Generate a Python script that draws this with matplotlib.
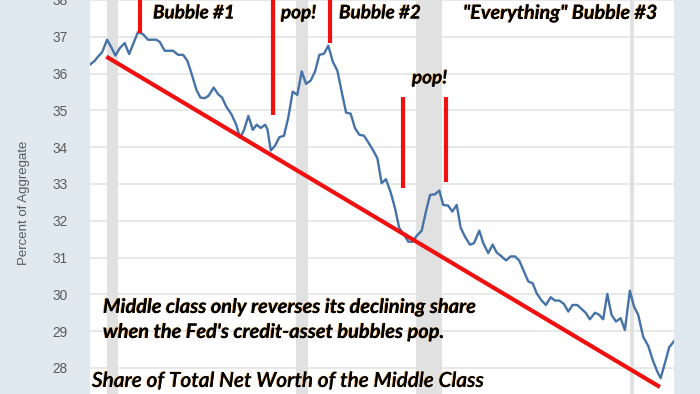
import matplotlib
matplotlib.use("Agg")
import matplotlib.pyplot as plt
import matplotlib.patheffects as pe

# share of total net worth held by the middle class (percent of aggregate)
years = [1989.53, 1989.81, 1989.99, 1990.22, 1990.50, 1990.74, 1990.97, 1991.21, 1991.49, 1991.74,
         1992.06, 1992.24, 1992.52, 1992.80, 1993.27, 1993.46, 1993.74, 1994.21, 1994.49, 1994.77,
         1995.01, 1995.24, 1995.52, 1995.74, 1995.99, 1996.21, 1996.49, 1996.74, 1996.96, 1997.20,
         1997.48, 1997.76, 1997.97, 1998.20, 1998.44, 1998.69, 1998.91, 1999.13, 1999.38, 1999.51,
         1999.70, 1999.94, 2000.18, 2000.44, 2000.69, 2000.93, 2001.19, 2001.44, 2001.68, 2001.94,
         2002.19, 2002.43, 2002.69, 2002.93, 2003.18, 2003.44, 2003.69, 2003.93, 2004.19, 2004.43,
         2004.67, 2004.94, 2005.18, 2005.43, 2005.69, 2005.93, 2006.17, 2006.44, 2006.68, 2006.92,
         2007.19, 2007.43, 2007.67, 2007.90, 2008.18, 2008.42, 2008.65, 2008.93, 2009.17, 2009.39,
         2009.67, 2009.90, 2010.15, 2010.37, 2010.61, 2010.89, 2011.12, 2011.42, 2011.64, 2011.92,
         2012.17, 2012.39, 2012.67, 2012.92, 2013.18, 2013.42, 2013.66, 2013.93, 2014.17, 2014.42,
         2014.64, 2014.92, 2015.16, 2015.43, 2015.67, 2015.91, 2016.17, 2016.42, 2016.66, 2016.92,
         2017.17, 2017.41, 2017.63, 2017.92, 2018.16, 2018.38, 2018.61, 2018.85, 2019.10, 2019.36,
         2019.60, 2019.88, 2020.11, 2020.35, 2020.63, 2020.91, 2021.16, 2021.42, 2021.61, 2021.85,
         2022.09, 2022.35]
share = [36.24, 36.35, 36.46, 36.58, 36.92, 36.71, 36.49, 36.69, 36.83, 36.53,
         36.92, 37.13, 37.07, 36.92, 36.92, 36.86, 36.62, 36.62, 36.51, 36.51,
         36.35, 36.01, 35.56, 35.35, 35.33, 35.40, 35.62, 35.44, 35.35, 35.10,
         34.90, 34.61, 34.25, 34.47, 34.85, 34.47, 34.61, 34.52, 34.61, 34.49,
         33.91, 34.04, 34.27, 34.31, 34.82, 35.51, 35.42, 36.06, 35.72, 35.81,
         36.06, 36.51, 36.54, 36.76, 36.33, 36.08, 35.49, 34.94, 34.91, 34.52,
         34.34, 34.31, 34.13, 33.93, 33.70, 33.02, 33.13, 32.77, 32.34, 31.80,
         31.62, 31.43, 31.43, 31.59, 31.73, 32.25, 32.70, 32.72, 32.82, 32.43,
         32.41, 32.25, 32.43, 31.81, 31.57, 31.35, 31.39, 31.73, 31.39, 31.12,
         31.35, 31.14, 31.03, 30.92, 31.03, 31.03, 30.92, 30.62, 30.35, 30.30,
         30.03, 29.83, 29.71, 29.92, 29.83, 29.83, 29.74, 29.53, 29.71, 29.71,
         29.60, 29.49, 29.32, 29.50, 29.44, 29.32, 30.01, 29.44, 29.26, 29.35,
         29.03, 30.10, 29.67, 29.44, 28.84, 28.60, 28.22, 27.90, 27.72, 28.13,
         28.56, 28.72]

rec_start = [1990.48, 2001.10, 2007.84, 2019.88]
rec_end = [1991.13, 2001.81, 2009.34, 2020.11]

trend_x = [1990.46, 2021.57]
trend_y = [36.46, 27.48]

# red "bubble" / "pop" markers
mark_x = [1992.35, 1999.84, 2003.03, 2007.15, 2009.52]
mark_lo = [37.11, 34.88, 36.84, 32.89, 33.06]
mark_hi = [38.3, 38.3, 38.3, 35.37, 35.37]

yticks = [28, 29, 30, 31, 32, 33, 34, 35, 36, 37, 38]

plt.rcParams['font.family'] = ['Liberation Sans', 'DejaVu Sans']

fig = plt.figure(figsize=(7, 3.94), dpi=100, facecolor='#e1e9f0')
ax = fig.add_axes([90 / 700, 0, 584 / 700, 1])
ax.set_facecolor('white')

for a, b in zip(rec_start, rec_end):
    ax.axvspan(a, b, color='#e1e1e1', lw=0, zorder=1)

ax.plot(years, share, color='#4572a7', lw=1.7, zorder=3)
ax.plot(trend_x, trend_y, color='#f01010', lw=3, solid_capstyle='butt', zorder=4)
for x, lo, hi in zip(mark_x, mark_lo, mark_hi):
    ax.plot([x, x], [lo, hi], color='#f01010', lw=3, solid_capstyle='butt', zorder=4)

ax.set_xlim(1989.54, 2022.36)
ax.set_ylim(27.29, 38.0)
ax.set_yticks(yticks)
ax.set_xticks([])
ax.grid(axis='y', color='#e4e4e4', lw=1.2, zorder=0)
ax.set_axisbelow(True)
for s in ax.spines.values():
    s.set_visible(False)
ax.tick_params(axis='y', length=0, pad=16, labelsize=9.8, labelcolor='#595959')

fig.text(24 / 700, 1 - 203 / 394, 'Percent of Aggregate', rotation=90, ha='center', va='center',
         fontsize=9.5, color='#595959')

shadow = [pe.withSimplePatchShadow(offset=(-0.7, 0.3), shadow_rgbFace='#e8a040', alpha=0.8), pe.Normal()]
note = dict(family=['Lato', 'DejaVu Sans'], fontweight='bold', fontstyle='italic', color='black',
            path_effects=shadow, va='center', ha='left')

fig.text(153 / 700, 1 - 13 / 394, 'Bubble #1', fontsize=13.6, **note)
fig.text(281 / 700, 1 - 13 / 394, 'pop!', fontsize=13.6, **note)
fig.text(339 / 700, 1 - 13 / 394, 'Bubble #2', fontsize=13.6, **note)
fig.text(463 / 700, 1 - 13 / 394, '"Everything" Bubble #3', fontsize=14.2, **note)
fig.text(412 / 700, 1 - 78 / 394, 'pop!', fontsize=13.6, **note)
fig.text(103 / 700, 1 - 307 / 394, 'Middle class only reverses its declining share', fontsize=14.4, **note)
fig.text(103 / 700, 1 - 332 / 394, "when the Fed's credit-asset bubbles pop.", fontsize=14.4, **note)

title = dict(note)
title['fontweight'] = 'semibold'
fig.text(92 / 700, 1 - 381 / 394, 'Share of Total Net Worth of the Middle Class', fontsize=15, **title)

fig.savefig('out.png', dpi=100, facecolor=fig.get_facecolor())
